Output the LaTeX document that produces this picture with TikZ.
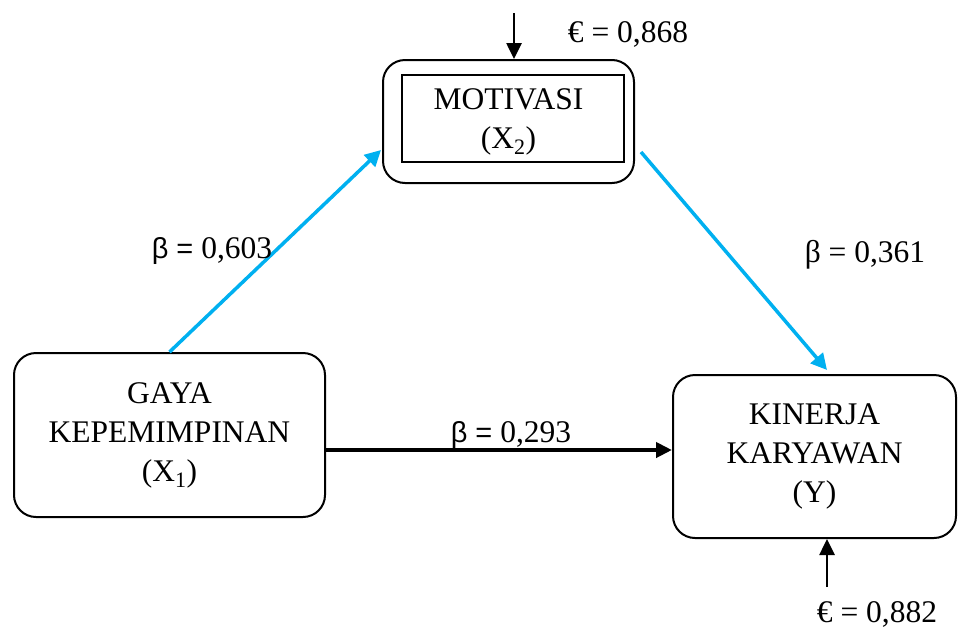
\documentclass[tikz,border=0pt]{standalone}
\usepackage{fontspec}
\setmainfont{Liberation Serif}
\newfontfamily\sansb[Scale=0.92]{Liberation Sans}
\usetikzlibrary{arrows.meta}
\definecolor{cyanline}{RGB}{0,176,240}
\tikzset{
  txt/.style={font=\fontsize{31.5}{39}\selectfont, inner sep=0pt},
  rbox/.style={draw, line width=2pt, rounded corners=22pt, txt, align=center},
  ibox/.style={draw, line width=2pt, inner sep=0pt},
  cyarrow/.style={draw=cyanline, line width=3.5pt, -{Triangle[length=16pt,width=16pt]}},
  blkarrow/.style={draw=black, line width=4pt, -{Triangle[length=16pt,width=15pt]}},
  errarrow/.style={draw=black, line width=2.6pt, -{Triangle[length=16pt,width=15pt]}},
  lbl/.style={txt, anchor=base}
}
\begin{document}
\begin{tikzpicture}[x=1pt, y=-1pt]
\useasboundingbox (0,0) rectangle (958,627);
% boxes
\node[rbox, minimum width=251pt, minimum height=123pt] (mot) at (508.5,121.5) {MOTIVASI\\(X\textsubscript{2})};
\node[ibox, minimum width=222pt, minimum height=87pt] (motin) at (513,118.5) {};
\node[rbox, minimum width=311pt, minimum height=164pt] (gaya) at (169.5,435) {GAYA\\KEPEMIMPINAN\\(X\textsubscript{1})};
\node[rbox, minimum width=283pt, minimum height=163pt] (kin) at (814.5,456.5) {KINERJA\\KARYAWAN\\(Y)};
% helper coordinates
\coordinate (a1) at (381,150);
\coordinate (b0) at (641,152);
\coordinate (b1) at (827,370);
\coordinate (h) at (0,450);
\coordinate (e1) at (514,13);
\coordinate (e2) at (827,587);
% connectors
\draw[cyarrow] (gaya.north) -- (a1);
\draw[cyarrow] (b0) -- (b1);
\draw[blkarrow] (gaya.east |- h) -- (kin.west |- h);
\draw[errarrow] (e1) -- (e1 |- mot.north);
\draw[errarrow] (e2) -- (e2 |- kin.south);
% labels
\node[lbl] (l1) at (212,258) {{\sansb β =} 0,603};
\node[lbl] (l2) at (865,262) {β = 0,361};
\node[lbl] (l3) at (511,442) {{\sansb β =} 0,293};
\node[lbl] (l4) at (628,42) {€ = 0,868};
\node[lbl] (l5) at (877,622) {€ = 0,882};
\end{tikzpicture}
\end{document}
